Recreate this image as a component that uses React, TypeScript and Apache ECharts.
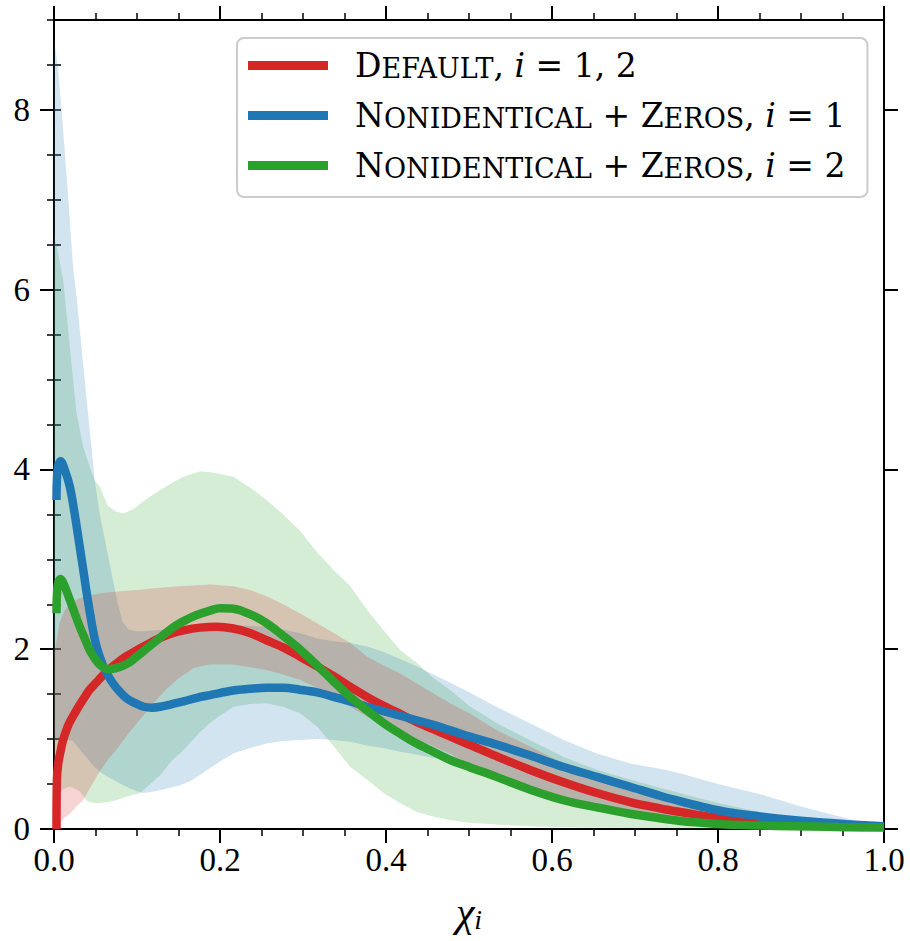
import { useEffect, useRef } from "react";
import * as echarts from "echarts";

const FONT = "'Liberation Serif', 'Times New Roman', serif";
const LEGEND_FONT = "'DejaVu Serif', 'Liberation Serif', serif";

// ---- mean curves ----
const redX = [0.003, 0.0035, 0.005, 0.008, 0.011, 0.018, 0.027, 0.035, 0.043, 0.051, 0.059, 0.067, 0.075, 0.087, 0.1, 0.112, 0.124, 0.14, 0.156, 0.176, 0.196, 0.216, 0.236, 0.256, 0.276, 0.296, 0.317, 0.337, 0.357, 0.377, 0.397, 0.417, 0.437, 0.457, 0.477, 0.5, 0.533, 0.573, 0.614, 0.654, 0.694, 0.73, 0.754, 0.78, 0.81, 0.85, 0.89, 0.93, 0.96, 1.0];
const redY = [0, 0.55, 0.72, 0.87, 0.99, 1.17, 1.32, 1.44, 1.55, 1.63, 1.71, 1.78, 1.84, 1.92, 1.99, 2.05, 2.11, 2.17, 2.21, 2.24, 2.25, 2.23, 2.18, 2.1, 2.02, 1.92, 1.81, 1.7, 1.58, 1.47, 1.37, 1.28, 1.19, 1.11, 1.03, 0.94, 0.81, 0.66, 0.52, 0.4, 0.3, 0.23, 0.19, 0.15, 0.11, 0.075, 0.05, 0.035, 0.025, 0.02];

const blueX = [0.003, 0.0045, 0.008, 0.012, 0.019, 0.025, 0.031, 0.035, 0.039, 0.043, 0.047, 0.051, 0.055, 0.059, 0.065, 0.071, 0.079, 0.088, 0.098, 0.108, 0.118, 0.128, 0.142, 0.156, 0.172, 0.188, 0.216, 0.236, 0.256, 0.276, 0.296, 0.317, 0.337, 0.357, 0.377, 0.397, 0.417, 0.437, 0.457, 0.477, 0.5, 0.533, 0.573, 0.614, 0.654, 0.694, 0.73, 0.754, 0.78, 0.81, 0.85, 0.89, 0.93, 0.96, 1.0];
const blueY = [3.66, 4.02, 4.09, 4.02, 3.81, 3.5, 3.14, 2.9, 2.65, 2.42, 2.21, 2.04, 1.92, 1.82, 1.71, 1.62, 1.53, 1.45, 1.4, 1.36, 1.35, 1.36, 1.39, 1.42, 1.46, 1.49, 1.54, 1.56, 1.57, 1.57, 1.55, 1.52, 1.47, 1.42, 1.36, 1.31, 1.26, 1.21, 1.16, 1.1, 1.03, 0.94, 0.82, 0.69, 0.58, 0.47, 0.37, 0.31, 0.25, 0.19, 0.14, 0.1, 0.07, 0.05, 0.03];

const greenX = [0.003, 0.0045, 0.008, 0.012, 0.019, 0.025, 0.031, 0.037, 0.043, 0.049, 0.055, 0.061, 0.067, 0.075, 0.084, 0.092, 0.1, 0.112, 0.124, 0.136, 0.148, 0.16, 0.172, 0.188, 0.2, 0.216, 0.236, 0.256, 0.276, 0.296, 0.317, 0.337, 0.357, 0.377, 0.397, 0.417, 0.437, 0.457, 0.477, 0.5, 0.533, 0.573, 0.614, 0.654, 0.694, 0.73, 0.754, 0.78, 0.81, 0.85, 0.89, 0.93, 0.96, 1.0];
const greenY = [2.4, 2.72, 2.78, 2.72, 2.55, 2.4, 2.25, 2.12, 1.99, 1.9, 1.83, 1.79, 1.78, 1.79, 1.82, 1.86, 1.92, 2.01, 2.1, 2.19, 2.27, 2.33, 2.38, 2.43, 2.455, 2.45, 2.39, 2.29, 2.15, 2.0, 1.82, 1.64, 1.47, 1.32, 1.18, 1.06, 0.95, 0.86, 0.77, 0.69, 0.58, 0.44, 0.32, 0.24, 0.17, 0.12, 0.09, 0.07, 0.05, 0.04, 0.03, 0.025, 0.02, 0.02];

// ---- uncertainty bands ----
const redBandX = [0, 0.003, 0.007, 0.012, 0.019, 0.027, 0.035, 0.045, 0.055, 0.065, 0.075, 0.087, 0.1, 0.112, 0.124, 0.136, 0.148, 0.168, 0.188, 0.216, 0.236, 0.256, 0.276, 0.296, 0.317, 0.337, 0.357, 0.377, 0.397, 0.417, 0.437, 0.457, 0.477, 0.5, 0.533, 0.573, 0.614, 0.654, 0.694, 0.754, 0.8, 0.85, 0.9, 0.95, 1.0];
const redLower = [0, 0, 0.06, 0.12, 0.17, 0.25, 0.32, 0.48, 0.64, 0.77, 0.88, 1.03, 1.18, 1.31, 1.44, 1.56, 1.66, 1.79, 1.83, 1.83, 1.8, 1.77, 1.72, 1.66, 1.57, 1.47, 1.36, 1.25, 1.16, 1.07, 1.0, 0.92, 0.84, 0.71, 0.59, 0.45, 0.33, 0.25, 0.18, 0.1, 0.06, 0.04, 0.02, 0.01, 0];
const redUpper = [1.95, 2.1, 2.3, 2.42, 2.5, 2.55, 2.58, 2.6, 2.62, 2.63, 2.64, 2.65, 2.66, 2.67, 2.68, 2.69, 2.7, 2.71, 2.72, 2.7, 2.66, 2.59, 2.5, 2.4, 2.29, 2.18, 2.07, 1.92, 1.82, 1.73, 1.62, 1.51, 1.4, 1.29, 1.1, 0.92, 0.73, 0.58, 0.47, 0.36, 0.25, 0.16, 0.09, 0.04, 0];

const blueBandX = [0, 0.005, 0.011, 0.017, 0.023, 0.028, 0.033, 0.039, 0.045, 0.049, 0.055, 0.063, 0.071, 0.077, 0.083, 0.09, 0.1, 0.108, 0.122, 0.136, 0.15, 0.164, 0.176, 0.188, 0.2, 0.216, 0.236, 0.256, 0.276, 0.296, 0.317, 0.337, 0.357, 0.377, 0.397, 0.417, 0.437, 0.457, 0.477, 0.5, 0.533, 0.573, 0.614, 0.654, 0.694, 0.73, 0.754, 0.8, 0.85, 0.9, 0.95, 0.98, 1.0];
const blueLower = [1.0, 1.0, 0.99, 0.99, 0.98, 0.92, 0.86, 0.8, 0.73, 0.69, 0.64, 0.59, 0.55, 0.52, 0.49, 0.46, 0.42, 0.4, 0.42, 0.45, 0.48, 0.53, 0.6, 0.68, 0.75, 0.84, 0.9, 0.95, 0.98, 0.99, 1.0, 0.99, 0.97, 0.93, 0.9, 0.86, 0.83, 0.79, 0.75, 0.67, 0.57, 0.44, 0.32, 0.24, 0.17, 0.12, 0.09, 0.05, 0.03, 0.015, 0.005, 0, 0];
const blueUpper = [8.8, 8.45, 7.78, 7.04, 6.25, 5.85, 5.37, 4.81, 4.26, 3.88, 3.51, 3.14, 2.77, 2.5, 2.3, 2.22, 2.2, 2.2, 2.21, 2.22, 2.24, 2.25, 2.26, 2.27, 2.27, 2.27, 2.26, 2.25, 2.22, 2.18, 2.12, 2.09, 2.07, 2.03, 1.97, 1.89, 1.81, 1.72, 1.63, 1.52, 1.36, 1.18, 0.99, 0.84, 0.73, 0.67, 0.62, 0.5, 0.39, 0.25, 0.13, 0.06, 0.01];

const greenBandX = [0, 0.004, 0.007, 0.011, 0.015, 0.019, 0.023, 0.027, 0.031, 0.035, 0.039, 0.043, 0.049, 0.055, 0.065, 0.075, 0.084, 0.096, 0.104, 0.116, 0.128, 0.142, 0.156, 0.176, 0.188, 0.2, 0.216, 0.236, 0.256, 0.276, 0.296, 0.317, 0.337, 0.357, 0.377, 0.397, 0.417, 0.437, 0.457, 0.477, 0.5, 0.533, 0.573, 0.614, 0.654, 0.694, 0.73, 0.754, 0.8, 0.85, 0.9, 0.95, 1.0];
const greenLower = [0.4, 0.41, 0.41, 0.44, 0.46, 0.47, 0.46, 0.44, 0.42, 0.37, 0.32, 0.3, 0.29, 0.29, 0.3, 0.32, 0.35, 0.38, 0.4, 0.5, 0.6, 0.76, 0.88, 1.08, 1.18, 1.26, 1.36, 1.39, 1.4, 1.36, 1.29, 1.14, 0.92, 0.69, 0.55, 0.4, 0.29, 0.19, 0.14, 0.1, 0.07, 0.05, 0.03, 0.02, 0.015, 0.01, 0.01, 0.005, 0, 0, 0, 0, 0];
const greenUpper = [6.61, 6.45, 6.3, 6.11, 5.74, 5.37, 5.0, 4.63, 4.45, 4.26, 4.14, 4.03, 3.88, 3.81, 3.59, 3.53, 3.51, 3.56, 3.62, 3.7, 3.77, 3.85, 3.92, 3.98, 3.97, 3.95, 3.92, 3.8, 3.66, 3.5, 3.32, 3.08, 2.88, 2.7, 2.44, 2.21, 1.99, 1.85, 1.68, 1.55, 1.37, 1.18, 0.99, 0.8, 0.66, 0.55, 0.46, 0.4, 0.29, 0.19, 0.11, 0.05, 0];

// ---- labels / ticks / colours ----
const SERIES_NAMES = ["Default, i = 1, 2", "Nonidentical + Zeros, i = 1", "Nonidentical + Zeros, i = 2"];
const LEGEND_RICH = [
  "{c|D}{s|EFAULT}{c|, }{m|i}{c| = 1, 2}",
  "{c|N}{s|ONIDENTICAL}{c| + Z}{s|EROS}{c|, }{m|i}{c| = 1}",
  "{c|N}{s|ONIDENTICAL}{c| + Z}{s|EROS}{c|, }{m|i}{c| = 2}",
];
const COLORS = ["#d62728", "#1f77b4", "#2ca02c"];
const BAND_FILLS = ["rgba(214,39,40,0.2)", "rgba(31,119,180,0.2)", "rgba(44,160,44,0.2)"];
const Y_MAJOR = [0, 2, 4, 6, 8];
const X_NAME = "{x|χ}{s|i}";

export default function App() {
  const ref = useRef<HTMLDivElement>(null);

  useEffect(() => {
    document.body.style.margin = "0";
    const chart = echarts.init(ref.current!, null, { renderer: "svg" });

    const pairs = (xs: number[], ys: number[]) => xs.map((x, i) => [x, ys[i]]);
    const band = (xs: number[], lo: number[], hi: number[], fill: string) => ({
      type: "custom",
      data: xs.map((x, i) => [x, lo[i], hi[i]]),
      encode: { x: 0, y: [1, 2] },
      clip: true, silent: true, z: 2,
      renderItem: (params: any, api: any) => {
        if (params.dataIndex !== 0) return null;
        const top = xs.map((x, i) => api.coord([x, hi[i]]));
        const bottom = xs.map((x, i) => api.coord([x, lo[i]])).reverse();
        return { type: "polygon", shape: { points: top.concat(bottom) }, style: { fill } };
      },
    });
    const curve = (name: string, xs: number[], ys: number[], color: string) => ({
      type: "line", name, data: pairs(xs, ys), symbol: "none", showSymbol: false,
      smooth: 0.35, color, itemStyle: { color },
      lineStyle: { color, width: 8.5, cap: "butt", join: "round" }, z: 3, silent: true,
      emphasis: { disabled: true },
    });

    const axisLine = { show: true, onZero: false, lineStyle: { color: "#000", width: 2 } };
    const majorTick = { show: true, length: 14, lineStyle: { color: "#000", width: 2 } };
    const minorTickLine = { color: "#000", width: 1.5 };
    const xBase = (pos: string, labels: boolean) => ({
      type: "value", position: pos, min: 0, max: 1, interval: 0.2,
      axisLine, axisTick: majorTick,
      minorTick: { show: true, splitNumber: 4, length: 7, lineStyle: minorTickLine },
      splitLine: { show: false }, minorSplitLine: { show: false },
      axisLabel: {
        show: labels, color: "#000", fontFamily: FONT, fontSize: 33, margin: 14,
        formatter: (v: number) => v.toFixed(1),
      },
    });
    const yMajor = (pos: string, labels: boolean) => ({
      type: "value", position: pos, min: 0, max: 9, interval: 2,
      axisLine,
      axisTick: { ...majorTick, customValues: Y_MAJOR },
      splitLine: { show: false },
      axisLabel: {
        show: labels, customValues: Y_MAJOR, color: "#000",
        fontFamily: FONT, fontSize: 33, margin: 24,
      },
    });
    const yMinor = (pos: string) => ({
      type: "value", position: pos, min: 0, max: 9, interval: 0.5,
      axisLine: { show: false },
      axisTick: { show: true, length: 7, lineStyle: minorTickLine },
      splitLine: { show: false }, axisLabel: { show: false },
    });

    const option = {
      animation: false,
      backgroundColor: "#ffffff",
      grid: { left: 54, right: 26, top: 20, bottom: 112, containLabel: false },
      xAxis: [
        {
          ...xBase("bottom", true),
          name: X_NAME, nameLocation: "middle", nameGap: 64,
          nameTextStyle: {
            rich: {
              x: { fontFamily: FONT, fontStyle: "italic", fontSize: 42, lineHeight: 40, color: "#000", verticalAlign: "bottom" },
              s: { fontFamily: FONT, fontStyle: "italic", fontSize: 28, lineHeight: 14, color: "#000", verticalAlign: "bottom" },
            },
          },
        },
        xBase("top", false),
      ],
      yAxis: [yMajor("left", true), yMinor("left"), yMajor("right", false), yMinor("right")],
      legend: {
        data: SERIES_NAMES, left: 237, top: 38, orient: "vertical",
        icon: "rect", itemWidth: 80, itemHeight: 9, itemGap: 17,
        padding: [11, 22, 15, 11],
        backgroundColor: "rgba(255,255,255,0.8)", borderColor: "#cccccc", borderWidth: 2, borderRadius: 7,
        selectedMode: false,
        formatter: (name: string) => LEGEND_RICH[SERIES_NAMES.indexOf(name)],
        textStyle: {
          padding: [0, 0, 0, 22],
          rich: {
            c: { fontFamily: LEGEND_FONT, fontSize: 33, lineHeight: 33, color: "#000", verticalAlign: "bottom" },
            s: { fontFamily: LEGEND_FONT, fontSize: 27, lineHeight: 29, color: "#000", verticalAlign: "bottom" },
            m: { fontFamily: LEGEND_FONT, fontStyle: "italic", fontSize: 33, lineHeight: 33, color: "#000", verticalAlign: "bottom" },
          },
        },
      },
      series: [
        band(greenBandX, greenLower, greenUpper, BAND_FILLS[2]),
        band(blueBandX, blueLower, blueUpper, BAND_FILLS[1]),
        band(redBandX, redLower, redUpper, BAND_FILLS[0]),
        curve(SERIES_NAMES[0], redX, redY, COLORS[0]),
        curve(SERIES_NAMES[1], blueX, blueY, COLORS[1]),
        curve(SERIES_NAMES[2], greenX, greenY, COLORS[2]),
      ],
    };

    chart.setOption(option as any);
    return () => chart.dispose();
  }, []);

  return <div ref={ref} style={{ width: 910, height: 941, position: "absolute", left: 0, top: 0 }} />;
}
